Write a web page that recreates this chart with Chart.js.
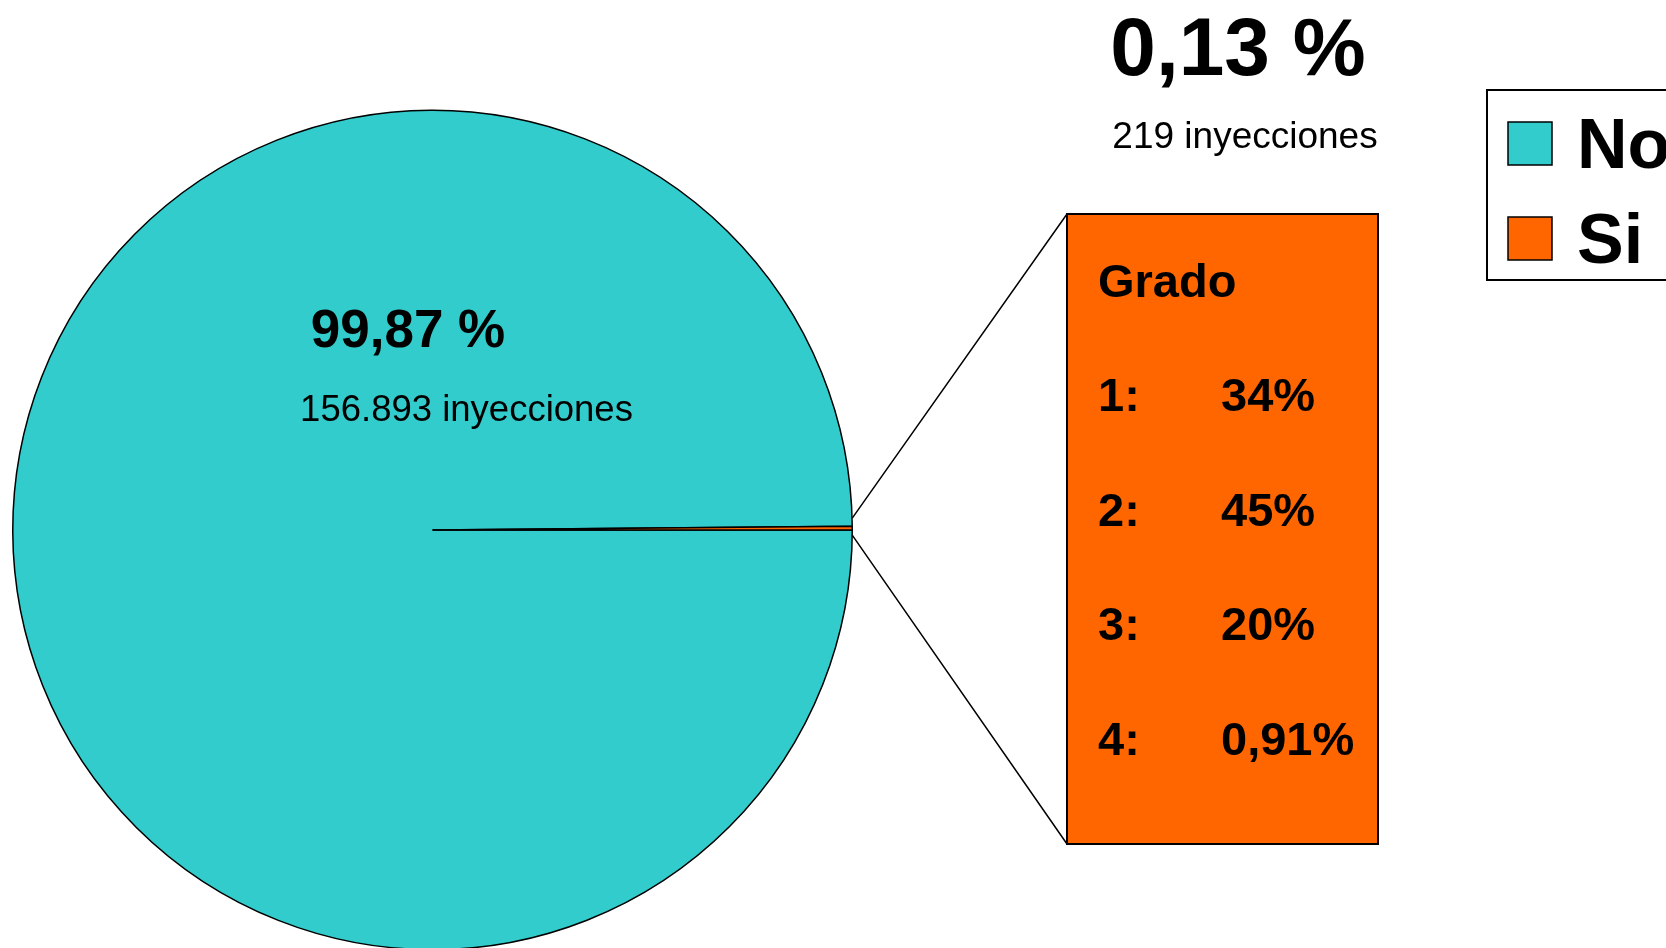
<!DOCTYPE html>
<html>
<head>
<meta charset="utf-8">
<script src="https://cdn.jsdelivr.net/npm/chart.js@4.4.1/dist/chart.umd.min.js"></script>
<style>
  html, body { margin: 0; padding: 0; background: #ffffff; overflow: hidden; }
  #wrap { position: relative; width: 1666px; height: 960px; }
</style>
</head>
<body>
<div id="wrap"><canvas id="c" width="1666" height="960"></canvas></div>
<script>
// ---- data ----
const categories = ['No', 'Si'];
const injections = [156893, 219];
const percentLabels = ['99,87 %', '0,13 %'];
const countLabels = ['156.893 inyecciones', '219 inyecciones'];
const sliceColors = ['#33CCCC', '#FF6600'];
const gradeHeader = 'Grado';
const gradeNames = ['1:', '2:', '3:', '4:'];
const gradeValues = ['34%', '45%', '20%', '0,91%'];

const FONT = '"Liberation Sans", Arial, Helvetica, sans-serif';

const overlay = {
  id: 'overlay',
  afterDatasetsDraw(chart) {
    const ctx = chart.ctx;
    const meta = chart.getDatasetMeta(0);
    const arcNo = meta.data[0];
    const arcSi = meta.data[1];
    const cx = arcNo.x, cy = arcNo.y, r = arcNo.outerRadius;
    ctx.save();
    ctx.fillStyle = '#000';
    ctx.textAlign = 'center';
    ctx.textBaseline = 'alphabetic';

    // labels for big slice
    ctx.font = 'bold 53px ' + FONT;
    ctx.fillText(percentLabels[0], 408, 347);
    ctx.font = '36.5px ' + FONT;
    ctx.fillText(countLabels[0], 466.5, 421);

    // labels for small slice
    ctx.font = 'bold 82px ' + FONT;
    ctx.fillText(percentLabels[1], 1238, 75);
    ctx.font = '37px ' + FONT;
    ctx.fillText(countLabels[1], 1245, 148);

    // breakout box
    const bx = 1067, by = 214, bw = 311, bh = 630;
    const ex = cx + r;
    const midA = (arcSi.startAngle + arcSi.endAngle) / 2;
    const ey = cy + r * Math.sin(midA);
    ctx.strokeStyle = '#000';
    ctx.lineWidth = 1.5;
    ctx.beginPath();
    ctx.moveTo(ex, ey - 10);
    ctx.lineTo(bx, by);
    ctx.moveTo(ex, ey + 7);
    ctx.lineTo(bx, by + bh);
    ctx.stroke();
    ctx.fillStyle = sliceColors[1];
    ctx.fillRect(bx, by, bw, bh);
    ctx.lineWidth = 2;
    ctx.strokeRect(bx, by, bw, bh);

    ctx.fillStyle = '#000';
    ctx.textAlign = 'left';
    ctx.font = 'bold 47px ' + FONT;
    ctx.fillText(gradeHeader, 1098, 297);
    for (let i = 0; i < gradeNames.length; i++) {
      const yb = 411 + i * 114.7;
      ctx.fillText(gradeNames[i], 1098, yb);
      ctx.fillText(gradeValues[i], 1221, yb);
    }

    // legend
    const lx = 1487, ly = 90, lw = 200, lh = 190;
    ctx.lineWidth = 2;
    ctx.strokeStyle = '#000';
    ctx.fillStyle = '#fff';
    ctx.fillRect(lx, ly, lw, lh);
    ctx.strokeRect(lx, ly, lw, lh);
    ctx.font = 'bold 70px ' + FONT;
    const bgs = chart.data.datasets[0].backgroundColor;
    chart.data.labels.forEach((lab, i) => {
      const sy = 122 + i * 95;
      ctx.fillStyle = bgs[i];
      ctx.fillRect(1508, sy, 44, 43);
      ctx.lineWidth = 1.5;
      ctx.strokeRect(1508, sy, 44, 43);
      ctx.fillStyle = '#000';
      ctx.fillText(lab, 1577, 168 + i * 95);
    });
    ctx.restore();
  }
};

new Chart(document.getElementById('c'), {
  type: 'pie',
  data: {
    labels: categories,
    datasets: [{
      data: injections,
      backgroundColor: sliceColors,
      borderColor: '#000000',
      borderWidth: 1.5,
      hoverOffset: 0
    }]
  },
  options: {
    responsive: false,
    animation: false,
    rotation: 90,
    layout: { padding: { left: 12, right: 813, top: 109, bottom: 9 } },
    plugins: {
      legend: { display: false },
      tooltip: { enabled: false }
    }
  },
  plugins: [overlay]
});
</script>
</body>
</html>
